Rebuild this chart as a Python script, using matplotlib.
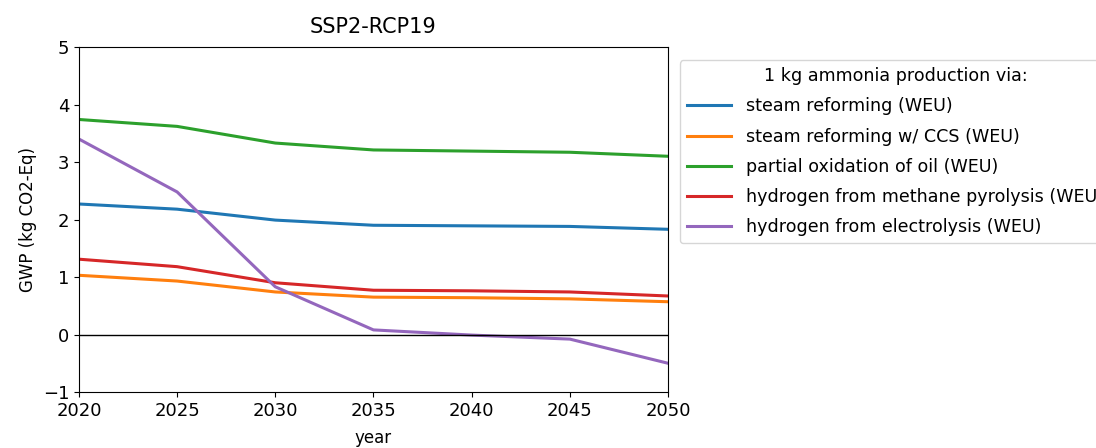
import matplotlib.pyplot as plt

years = [2020, 2025, 2030, 2035, 2040, 2045, 2050]
steam = [2.27, 2.18, 1.99, 1.90, 1.89, 1.88, 1.83]
steam_ccs = [1.03, 0.93, 0.74, 0.65, 0.64, 0.62, 0.57]
pox_oil = [3.74, 3.62, 3.33, 3.21, 3.19, 3.17, 3.10]
pyrolysis = [1.31, 1.18, 0.90, 0.77, 0.76, 0.74, 0.67]
electrolysis = [3.40, 2.48, 0.83, 0.08, -0.01, -0.08, -0.50]

labels = ["steam reforming (WEU)",
          "steam reforming w/ CCS (WEU)",
          "partial oxidation of oil (WEU)",
          "hydrogen from methane pyrolysis (WEU)",
          "hydrogen from electrolysis (WEU)"]

plt.rcParams['font.size'] = 12

fig = plt.figure(figsize=(10.96, 4.48), dpi=100)
ax = fig.add_axes([0.072, 0.125, 0.5375, 0.77])

for vals, lab in zip([steam, steam_ccs, pox_oil, pyrolysis, electrolysis], labels):
    ax.plot(years, vals, lw=2.2, label=lab)

ax.axhline(0, color='black', lw=1)
ax.set_xlim(2020, 2050)
ax.set_ylim(-1, 5)
ax.tick_params(labelsize=13)
ax.set_title("SSP2-RCP19", fontsize=15, pad=10)
ax.set_xlabel("year", fontsize=12, labelpad=7)
ax.set_ylabel("GWP (kg CO2-Eq)", fontsize=12)
# legend runs past the right edge of the figure, as in the original
ax.legend(title="1 kg ammonia production via:", loc='upper left',
          bbox_to_anchor=(1.02, 0.962), borderaxespad=0,
          fontsize=12.6, title_fontsize=12.6, handlelength=2.5,
          handletextpad=0.9, labelspacing=0.7)

fig.savefig("out.png", dpi=100)
